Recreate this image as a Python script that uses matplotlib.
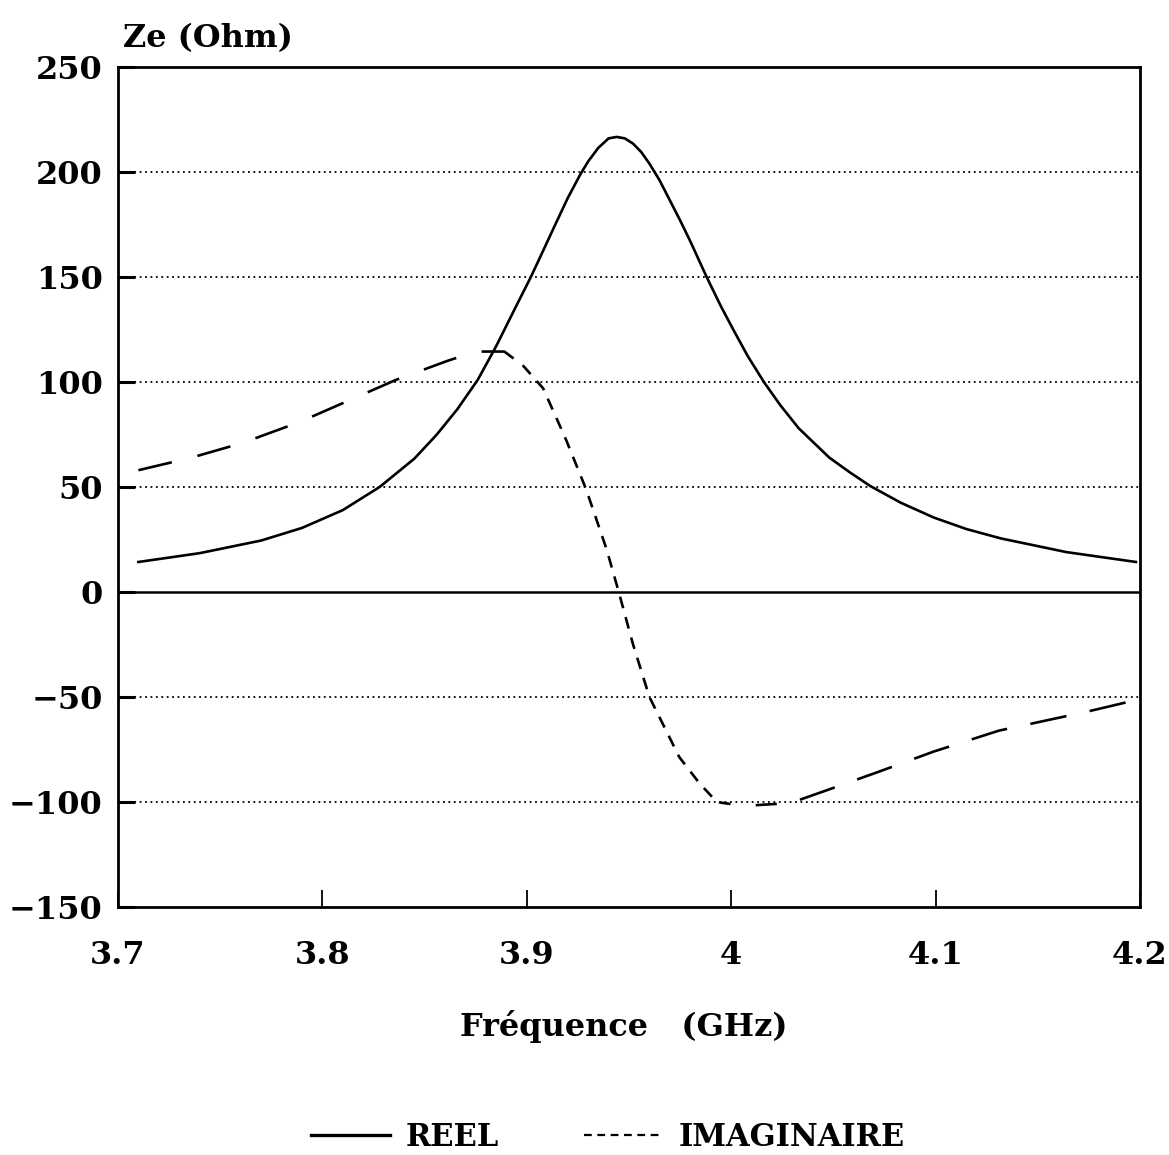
import matplotlib
matplotlib.use("Agg")
import matplotlib.pyplot as plt
from matplotlib.lines import Line2D

# Partie reelle (Ohm)
freq_reel = [3.71, 3.74, 3.77, 3.79, 3.81, 3.828, 3.845, 3.856, 3.866, 3.876,
             3.885, 3.895, 3.902, 3.908, 3.913, 3.92, 3.926, 3.93, 3.935, 3.94,
             3.944, 3.948, 3.952, 3.956, 3.96, 3.965, 3.97, 3.975, 3.98, 3.988,
             3.995, 4.001, 4.008, 4.016, 4.024, 4.033, 4.048, 4.058, 4.068,
             4.083, 4.099, 4.115, 4.132, 4.164, 4.198]
z_reel = [14.3, 18.5, 24.5, 30.5, 39, 50, 63.5, 75, 87, 101,
          117, 136.5, 150, 162.5, 173, 187.5, 198.5, 205, 211.5, 216,
          216.7, 216, 213.5, 209.5, 204, 196, 186.5, 177, 167, 150,
          136, 125, 112.5, 100, 89, 78, 64, 57, 50.5,
          42.5, 35.5, 30, 25.5, 19, 14.3]

# Partie imaginaire (Ohm), en trois morceaux comme sur l'original
freq_im_g = [3.71, 3.736, 3.761, 3.789, 3.836, 3.861, 3.875, 3.889, 3.898]
z_im_g = [58, 64, 71, 81, 101, 110, 114.5, 114.5, 108]
freq_im_c = [3.898, 3.908, 3.919, 3.929, 3.939, 3.945, 3.952, 3.960,
             3.9746, 3.9844, 3.993, 4.0]
z_im_c = [108, 97, 73, 49, 20.5, 0, -25, -50, -78.6, -91, -100, -101]
freq_im_d = [4.012, 4.029, 4.045, 4.071, 4.099, 4.131, 4.174, 4.2]
z_im_d = [-101.5, -100.5, -95, -86, -76, -66, -57, -51]

y_grille = [200, 150, 100, 50, -50, -100]
x_ticks = [3.7, 3.8, 3.9, 4.0, 4.1, 4.2]
x_labels = ["3.7", "3.8", "3.9", "4", "4.1", "4.2"]
y_ticks = [-150, -100, -50, 0, 50, 100, 150, 200, 250]

plt.rcParams['font.family'] = ['DejaVu Serif']
plt.rcParams['font.weight'] = 'bold'

fig = plt.figure(figsize=(11.69, 11.55), dpi=100)
ax = fig.add_axes([0.1009, 0.2147, 0.8743, 0.7273])

for y in y_grille:
    ax.axhline(y, color='black', lw=1.3, ls=(0, (1, 2)), zorder=1)
ax.axhline(0, color='black', lw=1.8, zorder=1)

lw = 1.9
ax.plot(freq_reel, z_reel, color='black', lw=lw)
ax.plot(freq_im_g, z_im_g, color='black', lw=lw, ls=(0, (13, 10)))
ax.plot(freq_im_c, z_im_c, color='black', lw=lw, ls=(0, (4.5, 3.5)))
ax.plot(freq_im_d, z_im_d, color='black', lw=lw, ls=(6, (14, 9)))

ax.set_xlim(3.7, 4.2)
ax.set_ylim(-150, 250)
ax.set_xticks(x_ticks)
ax.set_xticklabels(x_labels)
ax.set_yticks(y_ticks)
ax.tick_params(axis='x', direction='in', length=12, width=1.3, pad=24, labelsize=23)
ax.tick_params(axis='y', direction='in', length=12, width=2.2, pad=11, labelsize=23)
for s in ax.spines.values():
    s.set_linewidth(2)

ax.text(0.005, 1.015, "Ze (Ohm)", transform=ax.transAxes, fontsize=23, ha='left', va='bottom')
fig.text(0.534, 0.111, "Fréquence   (GHz)", fontsize=23, ha='center', va='center')

handles = [Line2D([], [], color='black', lw=2.4),
           Line2D([], [], color='black', lw=1.6, ls=(0, (3.5, 2.5)))]
fig.legend(handles, ["REEL", "IMAGINAIRE"], loc='center', bbox_to_anchor=(0.52, 0.015),
           ncol=2, frameon=False, fontsize=22, handlelength=2.6, handletextpad=0.5,
           columnspacing=2.8)

fig.savefig("out.png", dpi=100)
